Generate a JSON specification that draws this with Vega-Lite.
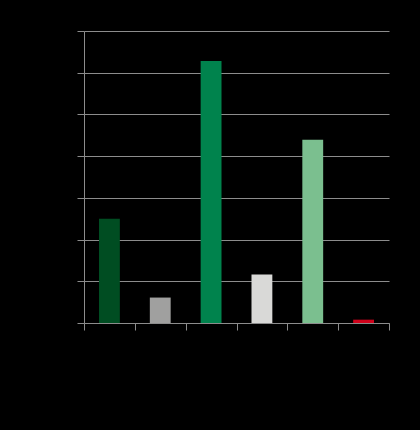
{
  "$schema": "https://vega.github.io/schema/vega-lite/v6.json",
  "description": "Bar chart on black background, six categories",
  "autosize": "none",
  "padding": {"left": 84, "top": 31, "right": 31, "bottom": 107},
  "width": 305,
  "height": 292,
  "background": "#000000",
  "data": {
    "values": [
      {"category": "1", "value": 2.5, "color": "#004d22"},
      {"category": "2", "value": 0.61, "color": "#a0a09f"},
      {"category": "3", "value": 6.28, "color": "#00834d"},
      {"category": "4", "value": 1.16, "color": "#d9d9d7"},
      {"category": "5", "value": 4.39, "color": "#7bbf8f"},
      {"category": "6", "value": 0.08, "color": "#d0021b"}
    ]
  },
  "mark": {"type": "bar", "width": {"band": 0.41}},
  "encoding": {
    "x": {
      "field": "category",
      "type": "nominal",
      "sort": null,
      "scale": {"paddingInner": 0, "paddingOuter": 0},
      "axis": {
        "title": null,
        "labels": false,
        "tickBand": "extent",
        "tickSize": 7,
        "tickColor": "#8c8c8c",
        "domainColor": "#8c8c8c",
        "grid": false
      }
    },
    "y": {
      "field": "value",
      "type": "quantitative",
      "scale": {"domain": [0, 7], "nice": false},
      "axis": {
        "title": null,
        "labels": false,
        "values": [0, 1, 2, 3, 4, 5, 6, 7],
        "tickSize": 7,
        "tickColor": "#8c8c8c",
        "domainColor": "#8c8c8c",
        "gridColor": "#8c8c8c",
        "gridOpacity": 1
      }
    },
    "color": {"field": "color", "type": "nominal", "scale": null, "legend": null}
  },
  "config": {
    "view": {"stroke": null},
    "font": "Liberation Sans"
  }
}
